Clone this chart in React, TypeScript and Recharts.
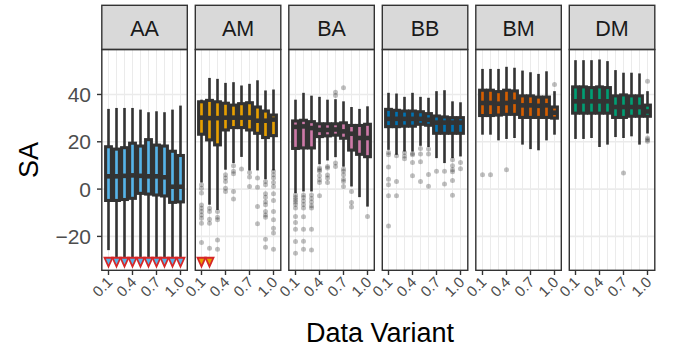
import React from 'react';
import { ComposedChart, Bar, XAxis, YAxis, CartesianGrid } from 'recharts';

const variants = ['0.1', '0.2', '0.3', '0.4', '0.5', '0.6', '0.7', '0.8', '0.9', '1.0'];
const labelledVariants = ['0.1', '0.4', '0.7', '1.0'];
const panelNames = ['AA', 'AM', 'BA', 'BB', 'BM', 'DM'];
const panelColors = ['#56B4E9', '#E69F00', '#CC79A7', '#0072B2', '#D55E00', '#009E73'];
const yTicks = [-20, 0, 20, 40];
const yDomain = [-34.2, 58.8];
const FLOOR = -30.8; // where values below the axis are marked

// AA
const aaLow = [-25.8, -30, -30, -30, -30, -30, -30, -30, -30, -30];
const aaQ1 = [-4.8, -4.8, -4.4, -3.9, -1.8, -2.1, -2.5, -2.9, -5.6, -5.4];
const aaMed = [5.4, 5.4, 5.6, 5.8, 5.6, 5.4, 5.4, 5.0, 1.0, 1.0];
const aaQ3 = [17.9, 16.9, 17.5, 19.4, 18.2, 20.9, 18.6, 18.2, 16.0, 14.2];
const aaHigh = [33.9, 34.3, 34.3, 34.3, 33.6, 32.5, 32.9, 32.5, 33.6, 35.3];
const aaOut: number[][] = [[], [], [], [], [], [], [], [], [], []];
const aaClipped = [1, 1, 1, 1, 1, 1, 1, 1, 1, 1];

// AM
const amLow = [2.8, -6.6, -8.8, 8.2, 11.0, 13.6, 7.9, 7.9, 4.2, 7.9];
const amQ1 = [23.2, 20.8, 18.7, 25.0, 26.0, 26.0, 25.0, 23.6, 21.8, 22.6];
const amMed = [30.2, 30.0, 30.0, 30.2, 30.2, 30.2, 30.2, 28.9, 28.9, 29.4];
const amQ3 = [36.9, 37.5, 36.9, 36.3, 35.5, 36.1, 36.5, 34.7, 33.0, 31.3];
const amHigh = [37.8, 47.0, 46.6, 44.9, 45.2, 43.8, 44.5, 46.0, 41.7, 42.1];
const amOut = [
  [1.8, 0.4, -1.7, -6.7, -8.1, -9.5, -10.9, -12.3, -14.4, -22.6],
  [-8.1, -9.5, -12.7, -14.4, -25.0],
  [-9.5, -11.9, -13.0, -21.5, -25.4],
  [6.1, 4.7, 3.2, 0.4, -1.0],
  [9.9, 7.5, 6.5, -1.0, -4.2],
  [8.5],
  [7.0, 5.1, 1.1],
  [4.7, 0.8, -7.4, -14.7],
  [3.2, 1.8, -2.0, -3.4, -5.3, -6.6, -9.5, -10.9, -11.9, -21.2, -24.6],
  [7.5, 6.1, 4.7, 2.8, 1.1, -2.0, -4.8, -9.5, -13.0, -16.5, -18.6, -25.4],
];
const amClipped = [1, 1, 0, 0, 0, 0, 0, 0, 0, 0];

// BA
const baLow = [-1.7, -1.0, -1.0, 10.5, 12.1, 13.5, 9.5, 1.1, -3.4, -7.4];
const baQ1 = [17.2, 17.4, 17.4, 22.2, 22.5, 22.8, 21.5, 16.5, 14.7, 13.7];
const baMed = [26.3, 26.5, 25.8, 25.0, 25.0, 25.2, 24.4, 23.4, 21.6, 21.6];
const baQ3 = [28.8, 29.1, 28.5, 27.6, 27.6, 27.6, 28.0, 26.9, 26.9, 27.4];
const baHigh = [37.8, 40.7, 39.5, 39.0, 37.8, 38.0, 37.1, 34.7, 33.9, 35.0];
const baOut = [
  [-2.5, -3.5, -4.5, -5.5, -6.5, -8.0, -11.6, -14.1, -17.0, -22.2, -27.1],
  [-2.5, -3.5, -5.0, -6.5, -8.0, -11.7, -17.0, -22.0, -25.4],
  [-2.5, -4.0, -5.5, -7.0, -8.0, -17.0, -25.7],
  [8.9, 8.2, 7.5, 5.6, 3.9, 2.8, -2.8],
  [9.6, 8.9, 6.0, 4.7, 2.8],
  [40.9, 39.6, 11.0, 9.6],
  [42.8, 8.5, 7.5, 6.1, 4.2, 3.2, 1.1],
  [-1.0, -5.7, -7.6],
  [],
  [-11.6],
];
const baClipped = [0, 0, 0, 0, 0, 0, 0, 0, 0, 0];

// BB
const bbLow = [16.6, 14.5, 15.9, 15.9, 18.3, 17.8, 13.1, 11.0, 13.1, 13.8];
const bbQ1 = [26.4, 26.4, 26.6, 26.6, 27.4, 27.0, 23.6, 23.6, 23.6, 23.6];
const bbMed = [29.7, 29.7, 29.7, 29.7, 29.7, 29.3, 28.1, 28.1, 28.1, 28.1];
const bbQ3 = [33.7, 33.3, 33.0, 33.0, 32.7, 31.9, 30.9, 30.5, 30.2, 30.2];
const bbHigh = [40.7, 40.4, 39.0, 40.7, 39.0, 38.6, 41.4, 41.8, 37.1, 36.7];
const bbOut = [
  [15.5, 14.5, 9.3, 4.2, 1.8, -2.8, -15.6],
  [14.1, 3.2, -2.8],
  [15.5, 14.0, 12.8],
  [15.0, 14.5, 11.2, 5.6],
  [17.2, 14.8, 11.6, 3.2],
  [16.9, 14.8, 6.2, 1.2],
  [7.5],
  [7.5, 2.2],
  [12.4, 9.9, 8.2, 7.3, 3.6, -2.6],
  [11.2, 8.6],
];
const bbClipped = [0, 0, 0, 0, 0, 0, 0, 0, 0, 0];

// BM
const bmLow = [23.0, 23.0, 20.6, 21.2, 21.6, 18.8, 16.9, 16.4, 20.6, 23.0];
const bmQ1 = [31.1, 31.1, 31.3, 31.6, 31.6, 30.3, 30.3, 30.3, 30.3, 30.0];
const bmMed = [36.4, 36.4, 36.1, 36.4, 36.9, 35.4, 35.4, 35.2, 35.4, 32.3];
const bmQ3 = [41.8, 41.8, 41.2, 41.8, 41.5, 39.4, 39.4, 38.9, 38.9, 34.7];
const bmHigh = [50.8, 50.8, 50.8, 51.7, 51.3, 50.1, 49.4, 48.7, 49.8, 41.4];
const bmOut = [[6.1], [6.1], [], [8.2], [], [], [], [], [], [44.2]];
const bmClipped = [0, 0, 0, 0, 0, 0, 0, 0, 0, 0];

// DM
const dmLow = [21.2, 21.2, 21.6, 17.8, 18.8, 22.0, 21.6, 22.3, 18.8, 23.5];
const dmQ1 = [32.1, 32.1, 32.1, 32.1, 32.1, 30.3, 30.3, 30.8, 30.8, 30.8];
const dmMed = [37.1, 37.1, 37.1, 37.1, 37.1, 34.7, 34.7, 34.7, 34.7, 32.8];
const dmQ3 = [43.2, 43.2, 42.9, 43.2, 42.9, 39.4, 39.8, 39.4, 39.4, 35.5];
const dmHigh = [54.5, 54.5, 54.5, 54.8, 54.1, 50.3, 49.2, 49.2, 48.9, 41.4];
const dmOut = [[], [], [], [], [], [], [6.8], [], [], [45.6, 21.6, 20.9, 20.2]];
const dmClipped = [0, 0, 0, 0, 0, 0, 0, 0, 0, 0];

const DARK = '#333333';
const RED = '#D62728';
const FONT = '"Liberation Sans", Arial, Helvetica, sans-serif';

// layout
const PANEL_X0 = 101.8;
const PANEL_STEP = 93.5;
const PANEL_W = 86;
const PLOT_TOP = 50;
const PLOT_H = 220;
const X_AXIS_H = 40;
const Y_AXIS_W = 60;
const LABEL_ROOM = 18; // extra room on the left for rotated tick labels

const buildRows = (low: number[], q1: number[], med: number[], q3: number[], high: number[], out: number[][], clipped: number[]) =>
  variants.map((v, i) => ({
    variant: v,
    range: [low[i], high[i]],
    low: low[i],
    q1: q1[i],
    med: med[i],
    q3: q3[i],
    high: high[i],
    outliers: out[i],
    clipped: clipped[i] === 1,
  }));

const panelRows = [
  buildRows(aaLow, aaQ1, aaMed, aaQ3, aaHigh, aaOut, aaClipped),
  buildRows(amLow, amQ1, amMed, amQ3, amHigh, amOut, amClipped),
  buildRows(baLow, baQ1, baMed, baQ3, baHigh, baOut, baClipped),
  buildRows(bbLow, bbQ1, bbMed, bbQ3, bbHigh, bbOut, bbClipped),
  buildRows(bmLow, bmQ1, bmMed, bmQ3, bmHigh, bmOut, bmClipped),
  buildRows(dmLow, dmQ1, dmMed, dmQ3, dmHigh, dmOut, dmClipped),
];

// the bar spans low..high, so every other value maps linearly inside it
const BoxShape = (props: any) => {
  const { x, y, width, height, payload, color } = props;
  const lo = payload.low;
  const hi = payload.high;
  const toY = (v: number) => y + (height * (hi - v)) / (hi - lo);
  const cx = x + width / 2;
  const half = width * 0.36;
  const top = toY(payload.q3);
  const bottom = toY(payload.q1);
  const mid = toY(payload.med);
  const ty = toY(FLOOR);
  return (
    <g>
      <line x1={cx} x2={cx} y1={toY(hi)} y2={toY(lo)} stroke={DARK} strokeWidth={2.6} />
      <rect x={cx - half} y={top} width={half * 2} height={bottom - top} fill={color} stroke={DARK} strokeWidth={3.1} />
      <line x1={cx - half} x2={cx + half} y1={mid} y2={mid} stroke={DARK} strokeWidth={4.6} />
      {payload.outliers.map((v: number, k: number) => (
        <circle key={k} cx={cx} cy={toY(v)} r={2.5} fill="#000" fillOpacity={0.25} />
      ))}
      {payload.clipped && (
        <path
          d={`M${cx - 4},${ty - 4.2} L${cx + 4},${ty - 4.2} L${cx},${ty + 4.6} Z`}
          fill={color}
          stroke={RED}
          strokeWidth={1.8}
          strokeLinejoin="miter"
        />
      )}
    </g>
  );
};

const VariantTick = (props: any) => {
  const { x, y, payload } = props;
  if (!labelledVariants.includes(payload.value)) return <g />;
  const tx = x + 5;
  const ty = y + 13;
  return (
    <g>
      <line x1={x} x2={x} y1={y} y2={y + 5} stroke={DARK} strokeWidth={1.4} />
      <text x={tx} y={ty} transform={`rotate(-45 ${tx} ${ty})`} textAnchor="end" fontSize={15} fill="#4D4D4D">
        {payload.value}
      </text>
    </g>
  );
};

const fmtY = (v: number) => (v < 0 ? `\u2212${-v}` : `${v}`);

const Panel = ({ idx }: { idx: number }) => {
  const first = idx === 0;
  const extra = first ? Y_AXIS_W : LABEL_ROOM;
  const left = PANEL_X0 + idx * PANEL_STEP - extra;
  const color = panelColors[idx];
  return (
    <div style={{ position: 'absolute', left, top: PLOT_TOP }}>
      <ComposedChart
        width={PANEL_W + extra}
        height={PLOT_H + X_AXIS_H}
        data={panelRows[idx]}
        margin={{ top: 0, right: 0, bottom: 0, left: first ? 0 : LABEL_ROOM }}
        barCategoryGap={0}
        barGap={0}
      >
        <CartesianGrid vertical={false} stroke="#EBEBEB" strokeWidth={1.6} horizontalValues={yTicks} />
        <CartesianGrid horizontal={false} stroke="#EBEBEB" strokeWidth={1} />
        <XAxis
          dataKey="variant"
          type="category"
          interval={0}
          tickSize={0}
          tickMargin={0}
          axisLine={false}
          tickLine={false}
          tick={<VariantTick />}
          height={X_AXIS_H}
          padding={{ left: 2.5, right: 3.5 }}
        />
        <YAxis
          type="number"
          domain={yDomain}
          ticks={yTicks}
          interval={0}
          allowDataOverflow
          hide={!first}
          width={Y_AXIS_W}
          axisLine={false}
          tickLine={{ stroke: DARK, strokeWidth: 1.4 }}
          tickSize={5}
          tickMargin={6}
          tickFormatter={fmtY}
          tick={{ fill: '#4D4D4D', fontSize: 21 }}
        />
        <Bar dataKey="range" isAnimationActive={false} shape={(p: any) => <BoxShape {...p} color={color} />} />
      </ComposedChart>
    </div>
  );
};

export default function App() {
  return (
    <div style={{ position: 'absolute', left: 0, top: 0, width: 673, height: 350, background: '#fff', fontFamily: FONT }}>
      {panelNames.map((n, i) => (
        <Panel key={n} idx={i} />
      ))}
      <svg width={673} height={350} style={{ position: 'absolute', left: 0, top: 0, pointerEvents: 'none' }}>
        {panelNames.map((n, i) => {
          const px = PANEL_X0 + i * PANEL_STEP;
          return (
            <g key={n}>
              <rect x={px} y={5.3} width={85.5} height={44.2} fill="#D9D9D9" stroke={DARK} strokeWidth={1.4} />
              <text x={px + 42.75} y={36} textAnchor="middle" fontSize={21.5} fill="#1A1A1A">
                {n}
              </text>
              <rect x={px} y={49.5} width={85.5} height={220.8} fill="none" stroke={DARK} strokeWidth={1.4} />
            </g>
          );
        })}
        <text x={38} y={160} transform="rotate(-90 38 160)" textAnchor="middle" fontSize={27} fill="#000">
          SA
        </text>
        <text x={380} y={341.5} textAnchor="middle" fontSize={27} fill="#000">
          Data Variant
        </text>
      </svg>
    </div>
  );
}
